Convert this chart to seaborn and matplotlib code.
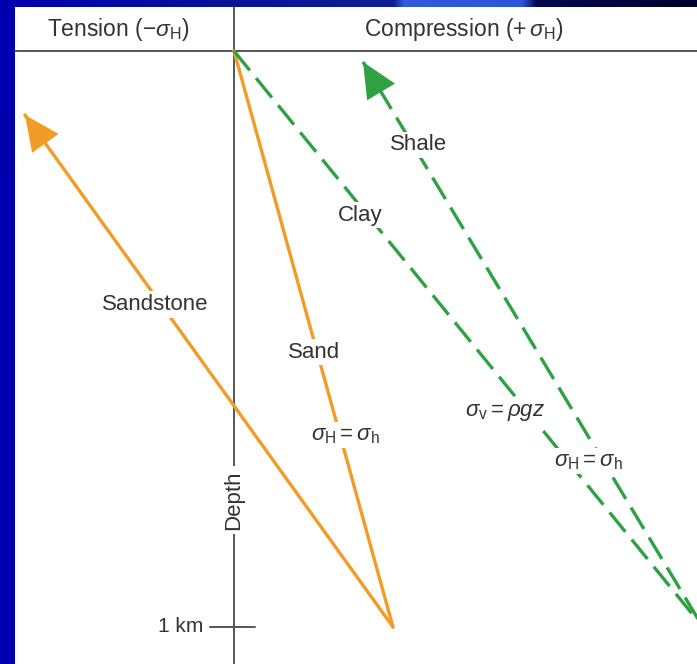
import numpy as np
import pandas as pd
import matplotlib
matplotlib.use("Agg")
import matplotlib.pyplot as plt
import seaborn as sns

# stress (x, arbitrary units, 0 = neutral) and depth (y, km)
sandstone_stress = [0.276, -0.363]
sandstone_depth = [1.0, 0.111]
sand_stress = [0.0, 0.276]
sand_depth = [0.0, 1.0]
clay_stress = [0.0, 0.814]
clay_depth = [0.0, 1.0]
shale_stress = [0.814, 0.224]
shale_depth = [1.0, 0.019]

header_labels = [r"Tension $(-\sigma_{\rm H})$", r"Compression $(+\,\sigma_{\rm H})$"]
depth_tick = 1.0
depth_tick_label = "1 km"

orange = "#F29B26"
green = "#2EA243"
txt = "#333333"
fs = 16

sns.set_theme(style="white")
plt.rcParams["font.family"] = ["Liberation Sans", "DejaVu Sans"]
plt.rcParams["mathtext.fontset"] = "custom"
plt.rcParams["mathtext.rm"] = "Liberation Sans"
plt.rcParams["mathtext.it"] = "Liberation Sans:italic"

fig = plt.figure(figsize=(6.97, 6.64), dpi=100)
fig.patch.set_facecolor("#0000B0")

# slide decoration strip at the top
top = fig.add_axes([0, 1 - 7 / 664, 1, 7 / 664])
grad = np.array([[0, 0, 176], [10, 20, 150], [15, 30, 150], [50, 90, 225],
                 [45, 85, 220], [5, 10, 80], [0, 0, 45]]) / 255
pos = [0, 0.35, 0.565, 0.58, 0.75, 0.77, 1.0]
xs = np.linspace(0, 1, 697)
row = np.stack([np.interp(xs, pos, grad[:, i]) for i in range(3)], axis=-1)
top.imshow(row[None, :, :], aspect="auto", extent=[0, 1, 0, 1])
top.axis("off")

ax = fig.add_axes([15 / 697, 0, 682 / 697, 657 / 664])
ax.set_facecolor("white")
for s in ax.spines.values():
    s.set_visible(False)

df_ss = pd.DataFrame({"stress": sandstone_stress, "depth": sandstone_depth})
df_sa = pd.DataFrame({"stress": sand_stress, "depth": sand_depth})
df_cl = pd.DataFrame({"stress": clay_stress, "depth": clay_depth})
df_sh = pd.DataFrame({"stress": shale_stress, "depth": shale_depth})

lw = 2.4
sns.lineplot(data=df_ss, x="stress", y="depth", sort=False, color=orange, lw=lw, ax=ax)
sns.lineplot(data=df_sa, x="stress", y="depth", sort=False, color=orange, lw=lw, ax=ax)
sns.lineplot(data=df_cl, x="stress", y="depth", sort=False, color=green, lw=lw, ax=ax,
             linestyle=(0, (7.5, 3)))
sns.lineplot(data=df_sh, x="stress", y="depth", sort=False, color=green, lw=lw, ax=ax,
             linestyle=(0, (7.5, 3)))

# arrow heads
for xs_, ys_, c in [(sandstone_stress, sandstone_depth, orange),
                    (shale_stress, shale_depth, green)]:
    x0, x1 = xs_
    y0, y1 = ys_
    f = 0.95
    ax.annotate("", xy=(x1, y1), xytext=(x0 + f * (x1 - x0), y0 + f * (y1 - y0)),
                arrowprops=dict(arrowstyle="-|>,head_length=1.4,head_width=0.65",
                                color=c, lw=0, shrinkA=0, shrinkB=0, mutation_scale=18))

ax.set_xlim((15 - 234) / 576, (697 - 234) / 576)
ax.set_ylim((664 - 51) / 576, (7 - 51) / 576)
ax.set_xticks([])
ax.set_yticks([])
ax.set_xlabel("")
ax.set_ylabel("")

# header and depth axis
ax.axhline(0, color="#555555", lw=1.4, zorder=1)
ax.axvline(0, color="#555555", lw=1.4, zorder=1)
ax.plot([-0.042, 0.036], [depth_tick, depth_tick], color="#555555", lw=1.4)
ax.text(-0.054, depth_tick, depth_tick_label, ha="right", va="center", fontsize=fs - 1, color=txt)
ax.text(0.0, 0.78, "Depth", rotation=90, ha="center", va="center", fontsize=fs, color=txt,
        bbox=dict(facecolor="white", edgecolor="none", pad=3))

ax.text(-0.201, -0.038, header_labels[0], ha="center", va="center", fontsize=fs + 0.5, color=txt)
ax.text(0.398, -0.038, header_labels[1], ha="center", va="center", fontsize=fs + 0.5, color=txt)

box = dict(facecolor="white", edgecolor="none", pad=2)
labels = [
    (-0.137, 0.44, "Sandstone"),
    (0.139, 0.523, "Sand"),
    (0.193, 0.667, r"$\sigma_{\rm H}=\sigma_{\rm h}$"),
    (0.219, 0.285, "Clay"),
    (0.47, 0.627, r"$\sigma_{\rm v}=\rho g z$"),
    (0.321, 0.163, "Shale"),
    (0.615, 0.712, r"$\sigma_{\rm H}=\sigma_{\rm h}$"),
]
for x, y, s in labels:
    ax.text(x, y, s, ha="center", va="center", fontsize=fs, color=txt, bbox=box, zorder=5)

fig.savefig("out.png", dpi=100, facecolor=fig.get_facecolor())
